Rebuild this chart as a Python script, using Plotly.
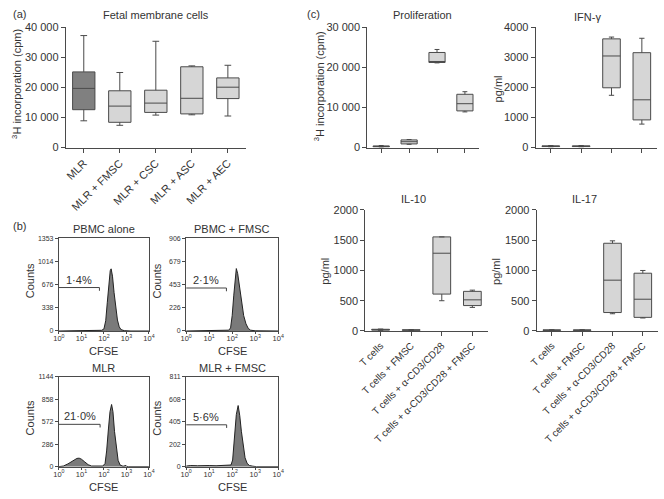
import plotly.graph_objects as go

W, H = 664, 499
FONT = "Arial, Liberation Sans, sans-serif"
TXT = "#333333"
LINE = "#4a4a4a"
LIGHT = "#d6d6d6"
DARK = "#808080"

# ---------------- Panel (a) data ----------------
a_cats = ["MLR", "MLR + FMSC", "MLR + CSC", "MLR + ASC", "MLR + AEC"]
a_low = [8900, 7400, 10800, 10900, 10500]
a_q1 = [12600, 8400, 11700, 11200, 16300]
a_med = [19700, 13800, 14800, 16400, 20100]
a_q3 = [25200, 18900, 19100, 26900, 23200]
a_high = [37300, 25000, 35400, 27200, 27400]
a_yticks = [0, 10000, 20000, 30000, 40000]
a_yticktext = ["0", "10 000", "20 000", "30 000", "40 000"]

# ---------------- Panel (c) data ----------------
c_cats = ["T cells", "T cells + FMSC", "T cells + α-CD3/CD28", "T cells + α-CD3/CD28 + FMSC"]
prolif = dict(low=[100, 800, 21150, 8900], q1=[150, 900, 21250, 9150],
              med=[250, 1450, 21350, 10950], q3=[400, 1900, 23750, 13300],
              high=[500, 2000, 24500, 13950])
ifng = dict(low=[20, 20, 1740, 780], q1=[30, 30, 1990, 920],
            med=[40, 40, 3050, 1590], q3=[55, 55, 3620, 3160],
            high=[65, 65, 3680, 3640])
il10 = dict(low=[10, 8, 500, 390], q1=[15, 12, 610, 420],
            med=[20, 15, 1285, 515], q3=[28, 20, 1555, 655],
            high=[32, 24, 1555, 675])
il17 = dict(low=[8, 8, 285, 215], q1=[10, 10, 305, 225],
            med=[14, 14, 840, 525], q3=[18, 18, 1450, 955],
            high=[22, 22, 1490, 1000])
prolif_ticks = [0, 10000, 20000, 30000]
prolif_ticktext = ["0", "10 000", "20 000", "30 000"]
ifng_ticks = [0, 1000, 2000, 3000, 4000]
il_ticks = [0, 500, 1000, 1500, 2000]

# ---------------- Panel (b) data (log10 CFSE, counts) ----------------
b_titles = ["PBMC alone", "PBMC + FMSC", "MLR", "MLR + FMSC"]
b_ymax = [1353, 906, 1144, 811]
b_yticks = [[0, 338, 676, 1014, 1353], [0, 226, 453, 679, 906],
            [0, 286, 572, 858, 1144], [0, 202, 405, 608, 811]]
b_gate_level = [634, 420, 539, 378]
b_gate_end = [1.8, 1.75, 1.83, 1.76]
b_gate_label = ["1·4%", "2·1%", "21·0%", "5·6%"]
hist_x = [
    [0, 0.5, 1.0, 1.5, 1.9, 2.0, 2.08, 2.15, 2.22, 2.28, 2.32, 2.38, 2.45, 2.52, 2.6, 2.68, 2.76, 2.9, 3.2, 4.0],
    [0, 1.0, 1.5, 1.85, 1.93, 2.0, 2.07, 2.13, 2.18, 2.24, 2.32, 2.4, 2.5, 2.6, 2.7, 2.8, 3.0, 4.0],
    [0, 0.2, 0.4, 0.6, 0.8, 0.9, 1.0, 1.15, 1.3, 1.45, 1.7, 1.95, 2.05, 2.12, 2.2, 2.27, 2.34, 2.4,
     2.47, 2.55, 2.63, 2.72, 2.85, 2.98, 3.02, 3.1, 4.0],
    [0, 0.2, 0.5, 0.8, 1.0, 1.3, 1.6, 1.8, 1.95, 2.02, 2.1, 2.18, 2.26, 2.33, 2.4, 2.48, 2.56, 2.65,
     2.75, 2.9, 3.05, 4.0],
]
hist_y = [
    [0, 0, 4, 6, 10, 30, 150, 420, 720, 880, 907, 800, 560, 330, 160, 60, 20, 5, 0, 0],
    [0, 3, 5, 8, 30, 150, 350, 540, 610, 560, 420, 280, 150, 70, 25, 8, 2, 0],
    [0, 8, 35, 75, 105, 108, 95, 60, 25, 8, 4, 8, 40, 200, 480, 700, 792, 700, 450, 220, 80, 20, 5,
     15, 3, 0, 0],
    [5, 10, 8, 12, 10, 8, 12, 10, 15, 60, 250, 470, 552, 460, 320, 180, 80, 30, 10, 4, 0, 0],
]
b_xticks = [0, 1, 2, 3, 4]
b_xticktext = ["10<sup>%d</sup>" % i for i in b_xticks]


def xd(a, b):
    return [a / W, b / W]


def yd(top, bot):
    return [1 - bot / H, 1 - top / H]


fig = go.Figure()
layout = dict(width=W, height=H, margin=dict(l=0, r=0, t=0, b=0),
              paper_bgcolor="white", plot_bgcolor="white", showlegend=False,
              font=dict(family=FONT, color=TXT, size=11))
annotations = []


def ann(text, px, py, size=11, angle=0, xanchor="center", yanchor="middle"):
    annotations.append(dict(text=text, x=px / W, y=1 - py / H, xref="paper", yref="paper",
                            showarrow=False, font=dict(size=size, color=TXT, family=FONT),
                            textangle=angle, xanchor=xanchor, yanchor=yanchor))


def box_axes(idx, xdom, ydom, yrange, tickvals, ticktext, cats, showx, xfont):
    xa = dict(domain=xdom, anchor="y%d" % idx, type="category", range=[-0.5, len(cats) - 0.5],
              showline=True, linecolor=LINE, linewidth=1, ticks="outside", ticklen=4,
              tickcolor=LINE, showgrid=False, zeroline=False, tickangle=-45,
              showticklabels=showx, tickfont=dict(size=xfont, color=TXT),
              categoryorder="array", categoryarray=cats, fixedrange=True)
    ya = dict(domain=ydom, anchor="x%d" % idx, range=yrange, showline=True, linecolor=LINE,
              linewidth=1, ticks="outside", ticklen=4, tickcolor=LINE, showgrid=False,
              zeroline=False, tickvals=tickvals, ticktext=ticktext,
              tickfont=dict(size=11, color=TXT), fixedrange=True)
    key = "" if idx == 1 else str(idx)
    layout["xaxis" + key] = xa
    layout["yaxis" + key] = ya


def add_box(idx, xs, low, q1, med, q3, high, fill, width):
    key = "" if idx == 1 else str(idx)
    fig.add_trace(go.Box(x=xs, lowerfence=low, q1=q1, median=med, q3=q3, upperfence=high,
                         fillcolor=fill, line=dict(color=LINE, width=1), width=width,
                         whiskerwidth=0.3, boxpoints=False, hoverinfo="skip",
                         xaxis="x" + key, yaxis="y" + key))


# ---- Panel (a)
box_axes(1, xd(59, 243), yd(22, 145), [0, 40000], a_yticks, a_yticktext, a_cats, True, 11)
for i, c in enumerate(a_cats):
    add_box(1, [c], [a_low[i]], [a_q1[i]], [a_med[i]], [a_q3[i]], [a_high[i]],
            DARK if i == 0 else LIGHT, 0.62)
ann("(a)", 3, 8, 11, xanchor="left")
ann("Fetal membrane cells", 151, 9, 11)
ann("<sup>3</sup>H incorporation (cpm)", 9, 80, 11, angle=-90)

# ---- Panel (c)
c_panels = [
    (2, prolif, xd(367, 481), yd(22, 145), [0, 30000], prolif_ticks, prolif_ticktext, False),
    (3, ifng, xd(539, 663), yd(22, 145), [0, 4000], ifng_ticks, [str(v) for v in ifng_ticks], False),
    (4, il10, xd(365, 490), yd(209, 333), [0, 2000], il_ticks, [str(v) for v in il_ticks], True),
    (5, il17, xd(540, 664), yd(209, 333), [0, 2000], il_ticks, [str(v) for v in il_ticks], True),
]
for idx, d, xdom, ydom, yr, tv, tt, showx in c_panels:
    box_axes(idx, xdom, ydom, yr, tv, tt, c_cats, showx, 10)
    add_box(idx, c_cats, d["low"], d["q1"], d["med"], d["q3"], d["high"], LIGHT, 0.58)
ann("(c)", 303, 8, 11, xanchor="left")
ann("Proliferation", 423, 9, 11)
ann("IFN-γ", 592, 11, 11)
ann("IL-10", 414, 198, 11)
ann("IL-17", 589, 198, 11)
ann("<sup>3</sup>H incorporation (cpm)", 318, 82, 11, angle=-90)
ann("pg/ml", 501, 85, 11, angle=-90)
ann("pg/ml", 324, 272, 11, angle=-90)
ann("pg/ml", 499, 272, 11, angle=-90)

# ---- Panel (b)
b_pos = [(52, 144, 238, 333), (182, 276, 238, 333), (52, 144, 380, 472), (182, 276, 380, 472)]
for k in range(4):
    idx = 6 + k
    l, r, t, b = b_pos[k]
    layout["xaxis%d" % idx] = dict(domain=xd(l, r), anchor="y%d" % idx, range=[0, 4],
                                   showline=True, mirror=True, linecolor=LINE, linewidth=1,
                                   ticks="outside", ticklen=2, tickcolor=LINE, showgrid=False,
                                   zeroline=False, tickvals=b_xticks, ticktext=b_xticktext,
                                   tickfont=dict(size=7.5, color=TXT), fixedrange=True,
                                   ticklabelstandoff=-2)
    layout["yaxis%d" % idx] = dict(domain=yd(t, b), anchor="x%d" % idx, range=[0, b_ymax[k]],
                                   showline=True, mirror=True, linecolor=LINE, linewidth=1,
                                   ticks="outside", ticklen=3, tickcolor=LINE, showgrid=False,
                                   zeroline=False, tickvals=b_yticks[k],
                                   ticktext=[str(v) for v in b_yticks[k]],
                                   tickfont=dict(size=7, color=TXT), fixedrange=True)
    fig.add_trace(go.Scatter(x=hist_x[k], y=hist_y[k], mode="lines", fill="tozeroy",
                             fillcolor="#7a7a7a", line=dict(color="#222222", width=1),
                             hoverinfo="skip", xaxis="x%d" % idx, yaxis="y%d" % idx))
    g = b_gate_level[k]
    drop = b_ymax[k] * 0.035
    fig.add_trace(go.Scatter(x=[0, b_gate_end[k], b_gate_end[k]], y=[g, g, g - drop],
                             mode="lines", line=dict(color="#444444", width=1),
                             hoverinfo="skip", xaxis="x%d" % idx, yaxis="y%d" % idx))
    annotations.append(dict(text=b_gate_label[k], x=b_gate_end[k] / 2, y=g,
                            xref="x%d" % idx, yref="y%d" % idx, showarrow=False,
                            yanchor="bottom", yshift=0,
                            font=dict(size=11, color=TXT, family=FONT)))
    ann(b_titles[k], (l + r) / 2, t - 9, 11)
    ann("Counts", l - 30, (t + b) / 2 - 4, 11, angle=-90)
    ann("CFSE", (l + r) / 2, b + 21, 11)
ann("(b)", 3, 225, 11, xanchor="left")

layout["annotations"] = annotations
fig.update_layout(**layout)
fig.write_html("out.html", config={"displayModeBar": False},
               post_script="document.body.style.margin='0';document.body.style.overflow='hidden';")
